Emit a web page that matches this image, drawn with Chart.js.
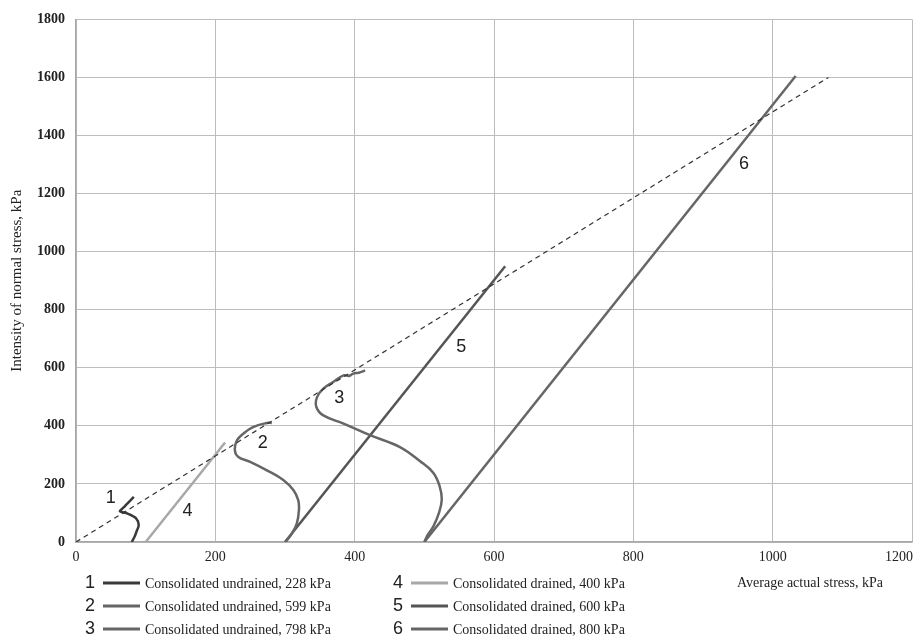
<!DOCTYPE html>
<html>
<head>
<meta charset="utf-8">
<script src="https://cdn.jsdelivr.net/npm/chart.js@4.4.1/dist/chart.umd.min.js"></script>
<style>
  html, body { margin: 0; padding: 0; background: #fff; overflow: hidden; }
  #wrap { width: 920px; height: 644px; }
</style>
</head>
<body>
<div id="wrap"><canvas id="stress_Chart" width="920" height="644"></canvas></div>
<script>
// curves (x = average actual stress, y = normal stress, kPa)
const cu228_x = [80, 84, 87, 90, 86, 74, 63, 68, 74, 83];
const cu228_y = [0, 18, 37, 58, 82, 98, 106, 118, 133, 155];

const cu599_x = [301, 310, 317, 320, 319, 312, 298, 274, 250, 233, 228, 231, 240, 254, 274, 281];
const cu599_y = [0, 30, 64, 110, 144, 179, 213, 247, 276, 293, 316, 350, 373, 396, 410, 410];

const cu798_x = [500, 505, 513, 521, 525, 522, 513, 494, 465, 422, 384, 355, 345, 346, 355, 369, 384, 392, 398, 406, 415];
const cu798_y = [0, 25, 54, 100, 146, 192, 238, 278, 327, 368, 408, 436, 465, 499, 528, 551, 574, 572, 580, 583, 591];

const cd400_x = [100, 214];
const cd400_y = [0, 343];
const cd600_x = [300, 616];
const cd600_y = [0, 950];
const cd800_x = [500, 1033];
const cd800_y = [0, 1605];

const envelope_x = [0, 1080];
const envelope_y = [0, 1600];

// curve numbers written inside the plot
const numTexts = ['1', '2', '3', '4', '5', '6'];
const numX = [50, 268, 378, 160, 553, 959];
const numY = [152, 340, 496, 108, 673, 1302];

const legendNames = [
  'Consolidated undrained, 228 kPa',
  'Consolidated undrained, 599 kPa',
  'Consolidated undrained, 798 kPa',
  'Consolidated drained, 400 kPa',
  'Consolidated drained, 600 kPa',
  'Consolidated drained, 800 kPa'
];
const seriesColors = ['#3a3a3a', '#666666', '#666666', '#a8a8a8', '#555555', '#666666'];

const xTicks = [0, 200, 400, 600, 800, 1000, 1200];

function pts(xs, ys) {
  return xs.map((v, i) => ({x: v, y: ys[i]}));
}

function curveSet(label, xs, ys, color, tension) {
  return {
    label: label,
    data: pts(xs, ys),
    showLine: true,
    borderColor: color,
    backgroundColor: color,
    borderWidth: 2.5,
    pointRadius: 0,
    tension: tension,
  };
}

const serif = '"Liberation Serif", "DejaVu Serif", serif';
const sans = '"Liberation Sans", Arial, sans-serif';

const extraText = {
  id: 'extraText',
  afterDraw(chart) {
    const c = chart.ctx;
    const xs = chart.scales.x, ys = chart.scales.y;
    c.save();
    // x tick labels (last one kept inside the canvas)
    c.font = '14px ' + serif;
    c.fillStyle = '#222';
    c.textBaseline = 'top';
    c.textAlign = 'center';
    xTicks.forEach(t => {
      let px = xs.getPixelForValue(t);
      const w = c.measureText(String(t)).width;
      px = Math.min(px, chart.width - 7 - w / 2);
      c.fillText(String(t), px, ys.bottom + 8);
    });

    // numbers beside the curves
    c.font = '18px ' + sans;
    c.fillStyle = '#222';
    c.textBaseline = 'middle';
    numTexts.forEach((t, i) => {
      c.fillText(t, xs.getPixelForValue(numX[i]), ys.getPixelForValue(numY[i]));
    });

    // legend, two columns of three
    const rowY = [583, 606, 629];
    const colX = [90, 398];
    legendNames.forEach((name, i) => {
      const col = Math.floor(i / 3), row = i % 3;
      const x0 = colX[col], y0 = rowY[row];
      c.font = '18px ' + sans;
      c.fillStyle = '#222';
      c.textAlign = 'center';
      c.fillText(String(i + 1), x0, y0);
      c.strokeStyle = seriesColors[i];
      c.lineWidth = 3;
      c.beginPath();
      c.moveTo(x0 + 13, y0);
      c.lineTo(x0 + 50, y0);
      c.stroke();
      c.font = '14px ' + serif;
      c.fillStyle = '#222';
      c.textAlign = 'left';
      c.fillText(name, x0 + 55, y0 + 1);
    });

    // x axis title
    c.font = '14px ' + serif;
    c.textAlign = 'left';
    c.fillText('Average actual stress, kPa', 737, 583);
    c.restore();
  }
};

let ctx = document.getElementById('stress_Chart');
let graphData = {
  type: 'scatter',
  data: {
    datasets: [
      {
        label: 'envelope',
        data: pts(envelope_x, envelope_y),
        showLine: true,
        borderColor: '#333',
        borderWidth: 1.2,
        borderDash: [5, 4],
        pointRadius: 0,
      },
      curveSet(legendNames[0], cu228_x, cu228_y, seriesColors[0], 0.3),
      curveSet(legendNames[1], cu599_x, cu599_y, seriesColors[1], 0.4),
      curveSet(legendNames[2], cu798_x, cu798_y, seriesColors[2], 0.4),
      curveSet(legendNames[3], cd400_x, cd400_y, seriesColors[3], 0),
      curveSet(legendNames[4], cd600_x, cd600_y, seriesColors[4], 0),
      curveSet(legendNames[5], cd800_x, cd800_y, seriesColors[5], 0),
    ]
  },
  options: {
    responsive: false,
    animation: false,
    layout: { padding: { left: 0, right: 8, top: 19, bottom: 0 } },
    plugins: {
      legend: { display: false },
      tooltip: { enabled: false },
    },
    scales: {
      x: {
        type: 'linear',
        min: 0,
        max: 1200,
        ticks: { display: false, stepSize: 200 },
        grid: { color: '#bdbdbd', lineWidth: 1, drawTicks: false },
        border: { color: '#a8a8a8', width: 1.5 },
        afterFit(scale) { scale.height = 102; },
      },
      y: {
        type: 'linear',
        min: 0,
        max: 1800,
        ticks: {
          stepSize: 200,
          padding: 11,
          color: '#222',
          font: { family: serif, size: 14, weight: 'bold' },
          callback: v => String(v),
        },
        grid: { color: '#bdbdbd', lineWidth: 1, drawTicks: false },
        border: { color: '#a8a8a8', width: 1.5 },
        title: {
          display: true,
          text: 'Intensity of normal stress, kPa',
          color: '#222',
          font: { family: serif, size: 15 },
          padding: { top: 8, bottom: 0 },
        },
        afterFit(scale) { scale.width = 76; },
      }
    }
  },
  plugins: [extraText]
};

let stress_Chart = new Chart(ctx, graphData);
</script>
</body>
</html>
